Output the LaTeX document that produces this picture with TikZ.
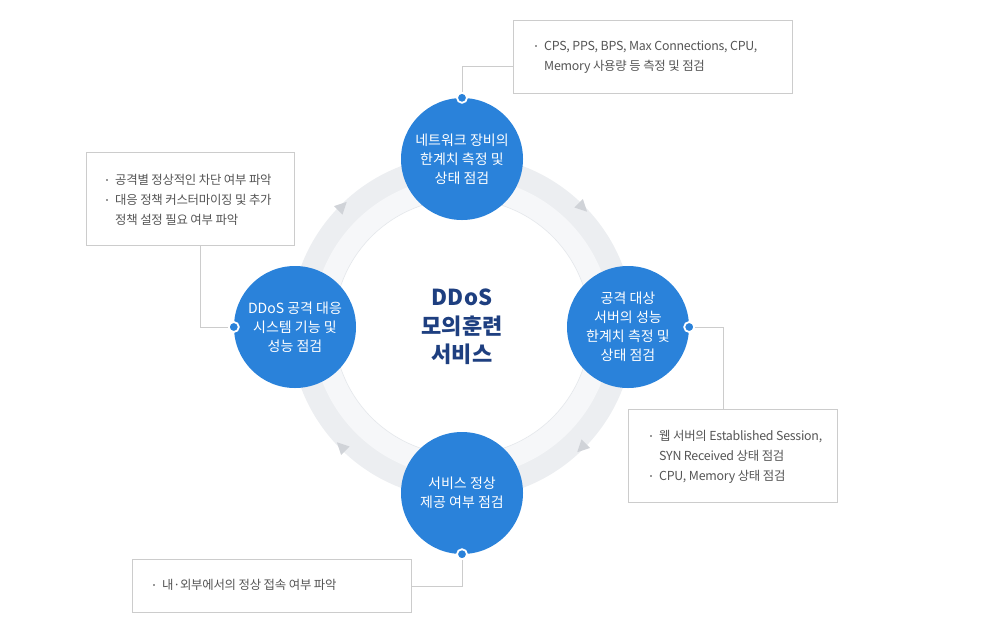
\documentclass[tikz,border=0pt]{standalone}
\usepackage{fontspec}
\setmainfont{Noto Sans CJK KR}
\newfontfamily\boxfont[LetterSpace=-2]{Noto Sans CJK KR}
\usetikzlibrary{calc}
\definecolor{cblue}{HTML}{2A82DA}
\definecolor{navy}{HTML}{1E3F80}
\definecolor{bandA}{HTML}{ECEEF1}
\definecolor{bandB}{HTML}{F6F7F9}
\definecolor{ringline}{HTML}{E4E7EB}
\definecolor{arrowc}{HTML}{D0D3D8}
\definecolor{boxline}{HTML}{CCCCCC}
\definecolor{txt}{HTML}{555555}
\definecolor{bul}{HTML}{9A9A9A}
\newcommand{\bul}{\makebox[9pt][l]{\textcolor{bul}{\rule[3.6pt]{2pt}{2pt}}}}
\newcommand{\ind}{\hspace*{9pt}}
\begin{document}
\begin{tikzpicture}[x=1pt,y=-1pt,
  stage/.style={circle, fill=cblue, minimum size=122pt, inner sep=0pt, text=white,
    font=\fontsize{14}{19}\selectfont, align=center},
  infobox/.style={draw=boxline, line width=0.8pt, fill=white, inner sep=0pt, anchor=north west},
  infotext/.style={text=txt, font=\boxfont\fontsize{12.4}{20}\selectfont, align=left, inner sep=0pt, anchor=west},
  link/.style={draw=boxline, line width=0.8pt},
  dot/.style={circle, fill=cblue, draw=white, line width=1.8pt, minimum size=10pt, inner sep=0pt},
  tri/.style={fill=arrowc}]
\useasboundingbox (0,0) rectangle (990,633);
\coordinate (ctr) at (462,327);
% ring
\fill[bandA] (ctr) circle (172);
\fill[bandB] (ctr) circle (150);
\fill[white] (ctr) circle (128);
\draw[ringline, line width=0.6pt] (ctr) circle (128);
\foreach \a in {-45,45,135,-135}
  \fill[tri, shift={($(ctr)+(\a:170)$)}, rotate={-(\a+90)}] (7,0) -- (-5,6) -- (-5,-6) -- cycle;
% centre title
\node[text=navy, font=\bfseries\fontsize{22}{28.5}\selectfont, align=center] (title) at (ctr) {DDoS\\모의훈련\\서비스};
% stages
\node[stage] (s1) at (462,159) {네트워크 장비의\\한계치 측정 및\\상태 점검};
\node[stage] (s2) at (628,327) {공격 대상\\서버의 성능\\한계치 측정 및\\상태 점검};
\node[stage] (s3) at (462,493) {서비스 정상\\제공 여부 점검};
\node[stage] (s4) at (295,327) {DDoS 공격 대응\\시스템 기능 및\\성능 점검};
% boxes
\node[infobox, minimum width=279pt, minimum height=73pt] (b1) at (513,20) {};
\node[infobox, minimum width=208pt, minimum height=93pt] (b4) at (86,152) {};
\node[infobox, minimum width=209pt, minimum height=93pt] (b2) at (628,409) {};
\node[infobox, minimum width=279pt, minimum height=53pt] (b3) at (132,559) {};
\node[infotext] (t1) at (535,57) {\bul CPS, PPS, BPS, Max Connections, CPU,\\\ind Memory 사용량 등 측정 및 점검};
\node[infotext] (t4) at (106,199.5) {\bul 공격별 정상적인 차단 여부 파악\\\bul 대응 정책 커스터마이징 및 추가\\\ind 정책 설정 필요 여부 파악};
\node[infotext] (t2) at (650,456.5) {\bul 웹 서버의 Established Session,\\\ind SYN Received 상태 점검\\\bul CPU, Memory 상태 점검};
\node[infotext] (t3) at (153,585) {\bul 내·외부에서의 정상 접속 여부 파악};
% dots
\node[dot] (d1) at (s1.north) {};
\node[dot] (d2) at (s2.east) {};
\node[dot] (d3) at (s3.south) {};
\node[dot] (d4) at (s4.west) {};
% connectors
\coordinate (k1) at ($(b1.north west)+(0,46.7)$);
\coordinate (k2) at ($(b2.north west)+(95,0)$);
\coordinate (k3) at ($(b3.north east)+(0,27.4)$);
\coordinate (k4) at ($(b4.south west)+(114.7,0)$);
\draw[link] (d1) |- (k1);
\draw[link] (d2) -| (k2);
\draw[link] (d3) |- (k3);
\draw[link] (k4) |- (d4);
\end{tikzpicture}
\end{document}
